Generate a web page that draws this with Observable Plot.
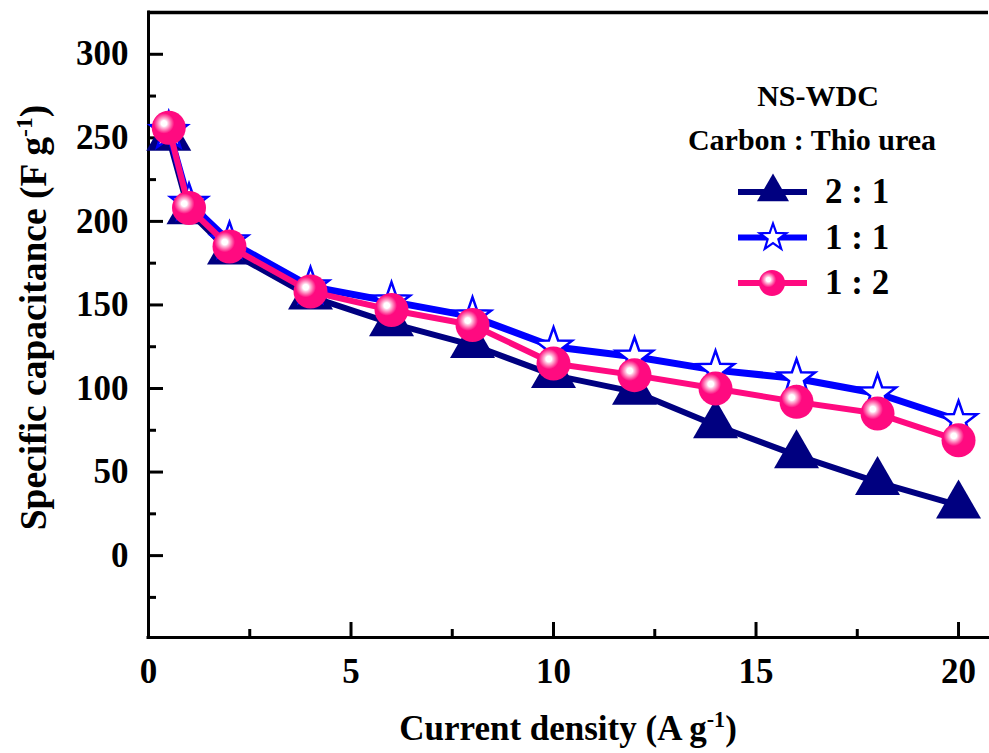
<!DOCTYPE html>
<html>
<head>
<meta charset="utf-8">
<script src="https://cdn.jsdelivr.net/npm/d3@7"></script>
<script src="https://cdn.jsdelivr.net/npm/@observablehq/plot@0.6"></script>
<style>
  html, body { margin: 0; padding: 0; background: #fff; }
  svg text { font-family: "Liberation Serif", "Times New Roman", serif; font-weight: bold; }
</style>
</head>
<body>
<script>
// Current density (A g^-1) at which each rate test was run
const currentDensity = [0.5, 1, 2, 4, 6, 8, 10, 12, 14, 16, 18, 20];

// Specific capacitance (F g^-1) for each Carbon : Thio urea ratio
const cap21 = [250, 206, 182, 155, 139, 126, 108, 98, 78, 60, 44, 30];
const cap11 = [254, 211, 188, 161, 152, 143, 125, 119, 111, 106, 97, 81];
const cap12 = [256, 208, 185, 158, 147, 138, 115, 108, 100, 92, 85, 69];

const seriesNames = ["2 : 1", "1 : 1", "1 : 2"];
const seriesColors = ["#000080", "#0000ff", "#ff0a80"];

// Axis ticks
const xMajor = [0, 5, 10, 15, 20];
const xMinor = [2.5, 7.5, 12.5, 17.5];
const yMajor = [0, 50, 100, 150, 200, 250, 300];
const yMinor = [-25, 25, 75, 125, 175, 225, 275];

const xDomain = [0, 20.74];
const yDomain = [-49, 325];

const toRows = (values) => currentDensity.map((x, i) => ({x, y: values[i]}));
const rows21 = toRows(cap21);
const rows11 = toRows(cap11);
const rows12 = toRows(cap12);

// Marker shapes: equilateral triangle anchored at its centroid, five-point star
const triangle = (side) => ({
  draw(ctx) {
    const h = side * Math.sqrt(3) / 2;
    ctx.moveTo(0, -2 * h / 3);
    ctx.lineTo(side / 2, h / 3);
    ctx.lineTo(-side / 2, h / 3);
    ctx.closePath();
  }
});
const star = (R) => ({
  draw(ctx) {
    const r = R * 0.4;
    for (let i = 0; i < 10; i++) {
      const a = -Math.PI / 2 + i * Math.PI / 5;
      const rad = i % 2 ? r : R;
      const px = rad * Math.cos(a), py = rad * Math.sin(a);
      if (i === 0) ctx.moveTo(px, py); else ctx.lineTo(px, py);
    }
    ctx.closePath();
  }
});

const width = 989, height = 753;
const margin = {left: 148, right: 1, top: 12, bottom: 116};
const plotW = width - margin.left - margin.right;
const plotH = height - margin.top - margin.bottom;

const chart = Plot.plot({
  width, height,
  marginLeft: margin.left, marginRight: margin.right,
  marginTop: margin.top, marginBottom: margin.bottom,
  style: {fontFamily: "Liberation Serif", fontWeight: "bold", fontSize: "35px", color: "#000", background: "#fff"},
  x: {domain: xDomain},
  y: {domain: yDomain},
  marks: [
    // frame: left, bottom and top borders
    Plot.ruleX([xDomain[0]], {stroke: "#000", strokeWidth: 3, strokeLinecap: "square"}),
    Plot.ruleY([yDomain[0]], {stroke: "#000", strokeWidth: 3, strokeLinecap: "square"}),
    Plot.ruleY([yDomain[1]], {stroke: "#000", strokeWidth: 3.5}),
    // inward-facing ticks
    Plot.tickX(xMajor, {x: d => d, insetTop: plotH - 15, stroke: "#000", strokeWidth: 3}),
    Plot.tickX(xMinor, {x: d => d, insetTop: plotH - 8, stroke: "#000", strokeWidth: 3}),
    Plot.tickY(yMajor, {y: d => d, insetRight: plotW - 15, stroke: "#000", strokeWidth: 3}),
    Plot.tickY(yMinor, {y: d => d, insetRight: plotW - 8, stroke: "#000", strokeWidth: 3}),
    Plot.axisX({ticks: xMajor, tickSize: 0, tickPadding: 21, label: null, fontSize: 35}),
    Plot.axisY({ticks: yMajor, tickSize: 0, tickPadding: 20, label: null, fontSize: 35}),
    // 2 : 1
    Plot.line(rows21, {x: "x", y: "y", stroke: seriesColors[0], strokeWidth: 6}),
    Plot.dot(rows21, {x: "x", y: "y", symbol: triangle(45), r: 10, fill: seriesColors[0], stroke: "none"}),
    // 1 : 1
    Plot.line(rows11, {x: "x", y: "y", stroke: seriesColors[1], strokeWidth: 7}),
    Plot.dot(rows11, {x: "x", y: "y", symbol: star(19.5), r: 10, fill: "#fff", stroke: seriesColors[1], strokeWidth: 2.5}),
    // 1 : 2
    Plot.line(rows12, {x: "x", y: "y", stroke: seriesColors[2], strokeWidth: 6}),
    Plot.dot(rows12, {x: "x", y: "y", r: 17, fill: "url(#sphere)", stroke: "none"})
  ]
});

document.body.append(chart);

const svg = d3.select(chart);

// glossy sphere fill for the 1 : 2 markers
const defs = svg.insert("defs", ":first-child");
const grad = defs.append("radialGradient")
  .attr("id", "sphere")
  .attr("cx", 0.36).attr("cy", 0.37).attr("fx", 0.36).attr("fy", 0.37).attr("r", 0.3);
[[0, "#ffffff"], [0.28, "#ffffff"], [0.42, "#ffc6e0"], [0.7, "#ff6aae"], [1, "#ff0a80"]]
  .forEach(([o, c]) => grad.append("stop").attr("offset", o).attr("stop-color", c));

// axis titles with superscript exponent
function titleWithSup(sel, main, sup, tail, size) {
  sel.append("tspan").text(main);
  sel.append("tspan").attr("font-size", size * 0.63).attr("dy", -size * 0.37).text(sup);
  sel.append("tspan").attr("dy", size * 0.37).text(tail);
}
titleWithSup(
  svg.append("text").attr("x", margin.left + plotW / 2).attr("y", 740)
    .attr("text-anchor", "middle").attr("font-size", 35).attr("fill", "#000"),
  "Current density (A g", "-1", ")", 35
);
titleWithSup(
  svg.append("text").attr("transform", `translate(46, ${margin.top + plotH / 2 - 7}) rotate(-90)`)
    .attr("text-anchor", "middle").attr("font-size", 37.5).attr("fill", "#000"),
  "Specific capacitance (F g", "-1", ")", 37.5
);

// legend
const lg = svg.append("g").attr("fill", "#000").attr("text-anchor", "start");
lg.append("text").attr("x", 818).attr("y", 106).attr("text-anchor", "middle").attr("font-size", 30).text("NS-WDC");
lg.append("text").attr("x", 812).attr("y", 150).attr("text-anchor", "middle").attr("font-size", 30).text("Carbon : Thio urea");

const legendSymbols = [
  {path: d3.symbol(triangle(32))(), fill: seriesColors[0], stroke: "none", sw: 0},
  {path: d3.symbol(star(14))(), fill: "#fff", stroke: seriesColors[1], sw: 2.2},
  {path: null, fill: "url(#sphere)", stroke: "none", sw: 0}
];
seriesNames.forEach((name, i) => {
  const y = 192 + i * 45.5;
  lg.append("line").attr("x1", 738).attr("x2", 807).attr("y1", y).attr("y2", y)
    .attr("stroke", seriesColors[i]).attr("stroke-width", 6);
  const s = legendSymbols[i];
  if (s.path) {
    lg.append("path").attr("d", s.path).attr("transform", `translate(773, ${y})`)
      .attr("fill", s.fill).attr("stroke", s.stroke).attr("stroke-width", s.sw);
  } else {
    lg.append("circle").attr("cx", 772).attr("cy", y).attr("r", 13).attr("fill", s.fill);
  }
  lg.append("text").attr("x", 825).attr("y", y + 11).attr("text-anchor", "start")
    .attr("font-size", 35).attr("xml:space", "preserve").text(name);
});
</script>
</body>
</html>
